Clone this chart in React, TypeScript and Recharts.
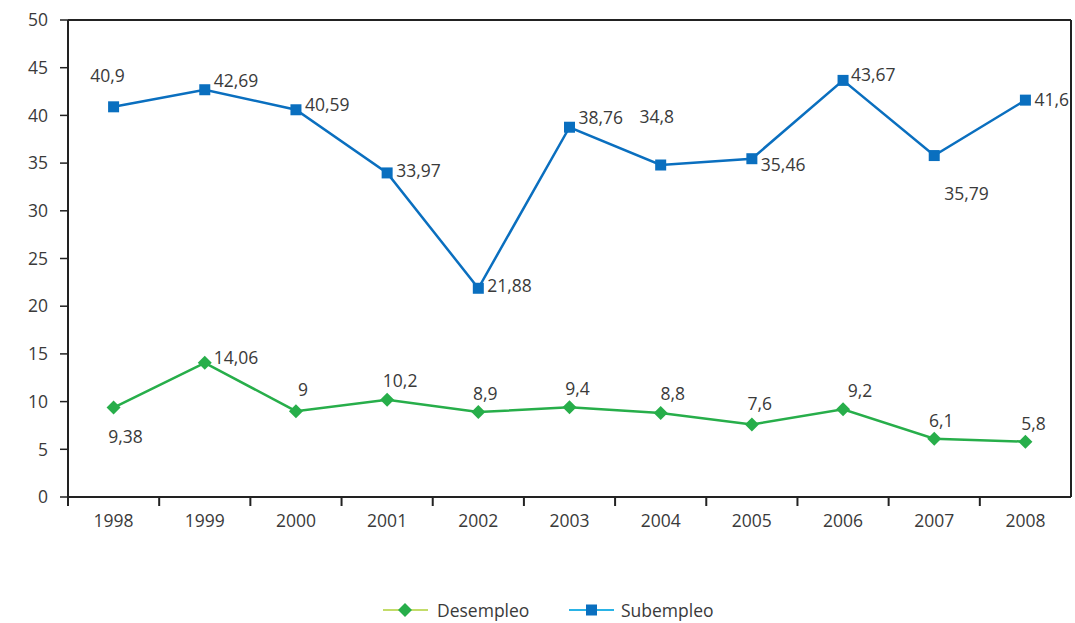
import { LineChart, Line, XAxis, YAxis, ReferenceLine, LabelList } from 'recharts'

const years = ['1998', '1999', '2000', '2001', '2002', '2003', '2004', '2005', '2006', '2007', '2008']
const desempleo = [9.38, 14.06, 9, 10.2, 8.9, 9.4, 8.8, 7.6, 9.2, 6.1, 5.8]
const subempleo = [40.9, 42.69, 40.59, 33.97, 21.88, 38.76, 34.8, 35.46, 43.67, 35.79, 41.6]
const yTicks = [0, 5, 10, 15, 20, 25, 30, 35, 40, 45, 50]

// label nudges [dx, dy, anchor] relative to each point
const subLabelPos: [number, number, string][] = [
  [-6, -32, 'middle'], [9, -10, 'start'], [9, -6, 'start'], [9, -3, 'start'], [9, -3, 'start'],
  [9, -10, 'start'], [-4, -49, 'middle'], [9, 5, 'start'], [8, -6, 'start'], [10, 37, 'start'], [9, -1, 'start'],
]
const desLabelPos: [number, number, string][] = [
  [12, 28, 'middle'], [9, -6, 'start'], [7, -22, 'middle'], [13, -20, 'middle'], [7, -19, 'middle'],
  [8, -19, 'middle'], [12, -20, 'middle'], [8, -21, 'middle'], [17, -19, 'middle'], [7, -19, 'middle'], [8, -19, 'middle'],
]

const data = years.map((y, i) => ({ year: y, des: desempleo[i], sub: subempleo[i] }))

const W = 1075
const H = 623
const LEFT = 68
const RIGHT = 4
const BAND = (W - LEFT - RIGHT) / years.length
const FONT = '"Open Sans", "Noto Sans", sans-serif'
const TXT = '#3a3a3a'
const BLUE = '#0a6fbf'
const GREEN = '#27ae4a'

const fmt = (v: number) => String(v).replace('.', ',')

function makeLabel(pos: [number, number, string][]) {
  return (props: any) => {
    const { x, y, value, index } = props
    const [dx, dy, anchor] = pos[index]
    return (
      <text x={x + dx} y={y + dy} textAnchor={anchor} dominantBaseline="central"
        fontSize={17.5} fill={TXT} fontFamily={FONT}>
        {fmt(value)}
      </text>
    )
  }
}

const SquareDot = (props: any) => {
  const { cx, cy } = props
  return <rect x={cx - 5.5} y={cy - 5.5} width={11} height={11} fill={BLUE} />
}

const DiamondDot = (props: any) => {
  const { cx, cy } = props
  return <path d={`M${cx},${cy - 7} L${cx + 7},${cy} L${cx},${cy + 7} L${cx - 7},${cy} Z`} fill={GREEN} />
}

const XTick = (props: any) => {
  const { x, y, payload } = props
  const left = x - BAND / 2
  return (
    <g>
      <line x1={left} y1={y - 8} x2={left} y2={y + 1} stroke="#222" strokeWidth={2} />
      <text x={x} y={y + 15} textAnchor="middle" dominantBaseline="central" fontSize={17.5}
        fill={TXT} fontFamily={FONT}>{payload.value}</text>
    </g>
  )
}

export default function App() {
  return (
    <div style={{ position: 'absolute', left: 0, top: 0, background: '#fff' }}>
      <LineChart width={W} height={H} data={data} margin={{ top: 20, right: 0, left: 0, bottom: 86 }}>
        <XAxis dataKey="year" tickLine={false} tick={<XTick />} axisLine={{ stroke: '#222', strokeWidth: 2 }}
          height={40} interval={0} padding={{ left: BAND / 2, right: BAND / 2 }} />
        <YAxis yAxisId="l" domain={[0, 50]} ticks={yTicks} width={LEFT} interval={0}
          axisLine={{ stroke: '#222', strokeWidth: 2 }} tickLine={{ stroke: '#222', strokeWidth: 1.5 }} tickSize={8}
          tick={{ fill: TXT, fontSize: 17.5, fontFamily: FONT, dx: -10 } as any} />
        <YAxis yAxisId="r" orientation="right" domain={[0, 50]} width={RIGHT} tick={false} tickLine={false}
          axisLine={{ stroke: '#222', strokeWidth: 2 }} />
        <ReferenceLine yAxisId="l" y={50} stroke="#222" strokeWidth={2} />
        <Line yAxisId="l" dataKey="sub" stroke={BLUE} strokeWidth={2.5} dot={<SquareDot />}
          isAnimationActive={false}>
          <LabelList dataKey="sub" content={makeLabel(subLabelPos)} />
        </Line>
        <Line yAxisId="l" dataKey="des" stroke={GREEN} strokeWidth={2.5} dot={<DiamondDot />}
          isAnimationActive={false}>
          <LabelList dataKey="des" content={makeLabel(desLabelPos)} />
        </Line>
      </LineChart>
      <svg width={W} height={40} style={{ position: 'absolute', left: 0, top: 590 }}>
        <line x1={383} y1={20} x2={428} y2={20} stroke="#c3dc6a" strokeWidth={2} />
        <path d="M405,13 L412,20 L405,27 L398,20 Z" fill={GREEN} />
        <text x={437} y={20} dominantBaseline="central" fontSize={17.5} fill={TXT} fontFamily={FONT}>Desempleo</text>
        <line x1={569} y1={20} x2={614} y2={20} stroke="#2ab3e6" strokeWidth={2} />
        <rect x={586} y={14.5} width={11} height={11} fill={BLUE} />
        <text x={621} y={20} dominantBaseline="central" fontSize={17.5} fill={TXT} fontFamily={FONT}>Subempleo</text>
      </svg>
    </div>
  )
}
